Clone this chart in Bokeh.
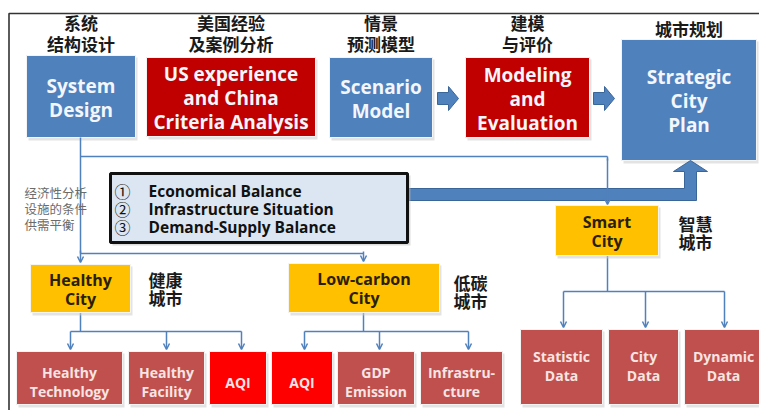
from bokeh.plotting import figure
from bokeh.models import Arrow, OpenHead, ColumnDataSource
from bokeh.core.properties import value
from bokeh.embed import file_html
from bokeh.resources import INLINE

# ---------------- content ----------------
top_en = [["System", "Design"],
          ["US experience", "and China", "Criteria Analysis"],
          ["Scenario", "Model"],
          ["Modeling", "and", "Evaluation"],
          ["Strategic", "City", "Plan"]]
top_zh = [["系统", "结构设计"], ["美国经验", "及案例分析"], ["情景", "预测模型"],
          ["建模", "与评价"], ["城市规划"]]
criteria_num = ["①", "②", "③"]
criteria_txt = ["Economical Balance", "Infrastructure Situation", "Demand-Supply Balance"]
note_zh = ["经济性分析", "设施的条件", "供需平衡"]
city_en = [["Healthy", "City"], ["Low-carbon", "City"], ["Smart", "City"]]
city_zh = [["健康", "城市"], ["低碳", "城市"], ["智慧", "城市"]]
leaf_en = [[["Healthy", "Technology"], ["Healthy", "Facility"], ["AQI"]],
           [["AQI"], ["GDP", "Emission"], ["Infrastru-", "cture"]],
           [["Statistic", "Data"], ["City", "Data"], ["Dynamic", "Data"]]]
leaf_hot = [[False, False, True], [True, False, False], [False, False, False]]

# ---------------- styles / layout ----------------
BLUE = "#4F81BD"; RED = "#C00000"; GOLD = "#FFC000"; BRICK = "#C0504D"
HOT = "#FF0000"; LINE = "#4F81BD"
EN = value("Open Sans"); ZH = value("Noto Sans CJK SC")

top_boxes = [(26, 135, 55, 137, BLUE), (146, 315, 57, 136, RED), (329, 432, 57, 137, BLUE),
             (465, 589, 57, 137, RED), (621, 756, 39, 160, BLUE)]
top_zh_y = [[22, 43], [22, 43], [22, 43], [22, 43], [28]]
city_boxes = [(30, 130, 264, 312), (288, 439, 263, 312), (555, 658, 205, 255)]
city_zh_pos = [(165, 279), (470, 282), (695, 223)]
leaf_boxes = [[(16, 122, 351, 404), (128, 204, 351, 404), (209, 266, 351, 404)],
              [(271, 332, 351, 404), (337, 414, 351, 404), (420, 502, 351, 404)],
              [(520, 602, 329, 404), (608, 678, 329, 404), (684, 762, 329, 404)]]

p = figure(width=759, height=410, x_range=(0, 759), y_range=(410, 0),
           output_backend="svg", toolbar_location=None, min_border=0)
p.axis.visible = False
p.grid.visible = False
p.outline_line_color = None
p.background_fill_color = "white"

# frame
p.line([8.5, 8.5, 760], [412, 13, 13], line_color="#333333", line_width=1.6)

def box(l, r, t, b, color, shadow=True):
    if shadow:
        p.quad(left=l + 2, right=r + 2, top=t + 2, bottom=b + 3, fill_color="#cccccc",
               fill_alpha=0.55, line_color=None)
    p.quad(left=l, right=r, top=t, bottom=b, fill_color=color, line_color="#f4f4f4",
           line_width=1)

def lines_text(cx, cy, lines, spacing, size, color, font=EN, bold=True):
    n = len(lines)
    ys = [cy + (i - (n - 1) / 2) * spacing for i in range(n)]
    p.text(x=[cx] * n, y=ys, text=lines, text_align="center", text_baseline="middle",
           text_font=font, text_font_style="bold" if bold else "normal",
           text_font_size=f"{size}px", text_color=color)

# top row
for (l, r, t, b, c), en, zh, zy in zip(top_boxes, top_en, top_zh, top_zh_y):
    box(l, r, t, b, c)
    cx, cy = (l + r) / 2, (t + b) / 2
    lines_text(cx, cy + 1, en, 24, 19, "#F3F6FB")
    p.text(x=[cx] * len(zh), y=zy, text=zh, text_align="center", text_baseline="middle",
           text_font=ZH, text_font_style="bold", text_font_size="17px", text_color="#1a1a1a")

# small block arrows between top boxes
for x0 in (437, 593):
    p.patch([x0, x0 + 11, x0 + 11, x0 + 21, x0 + 11, x0 + 11, x0],
            [92, 92, 86, 98, 110, 104, 104], fill_color=BLUE, line_color="#3A6599", line_width=1)

# connectors
seg_x0 = [80, 80, 607, 80, 80, 70, 363, 304, 563, 607]
seg_y0 = [137, 156, 156, 253, 312, 331, 312, 331, 291, 255]
seg_x1 = [80, 607, 607, 363, 80, 241, 363, 468, 724, 607]
seg_y1 = [253, 156, 160, 253, 331, 331, 331, 331, 291, 291]
p.segment(x0=seg_x0, y0=seg_y0, x1=seg_x1, y1=seg_y1, line_color=LINE, line_width=1.5)

arr = ColumnDataSource(dict(
    x0=[80, 607, 363, 70, 166, 241, 304, 379, 468, 563, 645, 724],
    y0=[250, 158, 251, 331, 331, 331, 331, 331, 331, 291, 291, 291],
    x1=[80, 607, 363, 70, 166, 241, 304, 379, 468, 563, 645, 724],
    y1=[262, 204, 261, 349, 349, 349, 349, 349, 349, 327, 327, 327]))
p.add_layout(Arrow(end=OpenHead(size=6, line_color=LINE, line_width=1.5),
                   x_start="x0", y_start="y0", x_end="x1", y_end="y1",
                   line_color=LINE, line_width=1.5, source=arr))

# fat arrow from criteria box to strategic plan
p.patch([405, 684, 684, 673, 690, 707, 696, 696, 405],
        [188, 188, 171, 171, 160, 171, 171, 200, 200],
        fill_color=BLUE, line_color="#3A6599", line_width=1)

# criteria box
p.quad(left=112, right=410, top=175, bottom=245, fill_color="#bbbbbb", fill_alpha=0.5, line_color=None)
p.quad(left=110, right=407, top=173, bottom=242, fill_color="#DCE6F2",
       line_color="#111111", line_width=3)
cy = [190, 208, 226]
p.text(x=[122] * 3, y=cy, text=criteria_num, text_align="center", text_baseline="middle",
       text_font=ZH, text_font_size="16px", text_color="#111111")
p.text(x=[148] * 3, y=cy, text=criteria_txt, text_align="left", text_baseline="middle",
       text_font=EN, text_font_style="bold", text_font_size="15.5px", text_color="#111111")

# side note
p.text(x=[24] * 3, y=[192, 208, 224], text=note_zh, text_align="left", text_baseline="middle",
       text_font=ZH, text_font_size="12.5px", text_color="#6b6b6b")

# city boxes
for (l, r, t, b), en, zh, (zx, zy) in zip(city_boxes, city_en, city_zh, city_zh_pos):
    box(l, r, t, b, GOLD)
    lines_text((l + r) / 2, (t + b) / 2 + 0.5, en, 19, 16, "#2a2000")
    p.text(x=[zx, zx], y=[zy, zy + 18], text=zh, text_align="center", text_baseline="middle",
           text_font=ZH, text_font_style="bold", text_font_size="17px", text_color="#1a1a1a")

# leaf boxes
for grp, labels, hots in zip(leaf_boxes, leaf_en, leaf_hot):
    for (l, r, t, b), lab, hot in zip(grp, labels, hots):
        box(l, r, t, b, HOT if hot else BRICK)
        cy0 = (t + b) / 2 + (4 if b - t < 60 else -1)
        lines_text((l + r) / 2, cy0, lab, 19, 14, "#F7E4E3")

open("out.html", "w").write(file_html(p, INLINE))
